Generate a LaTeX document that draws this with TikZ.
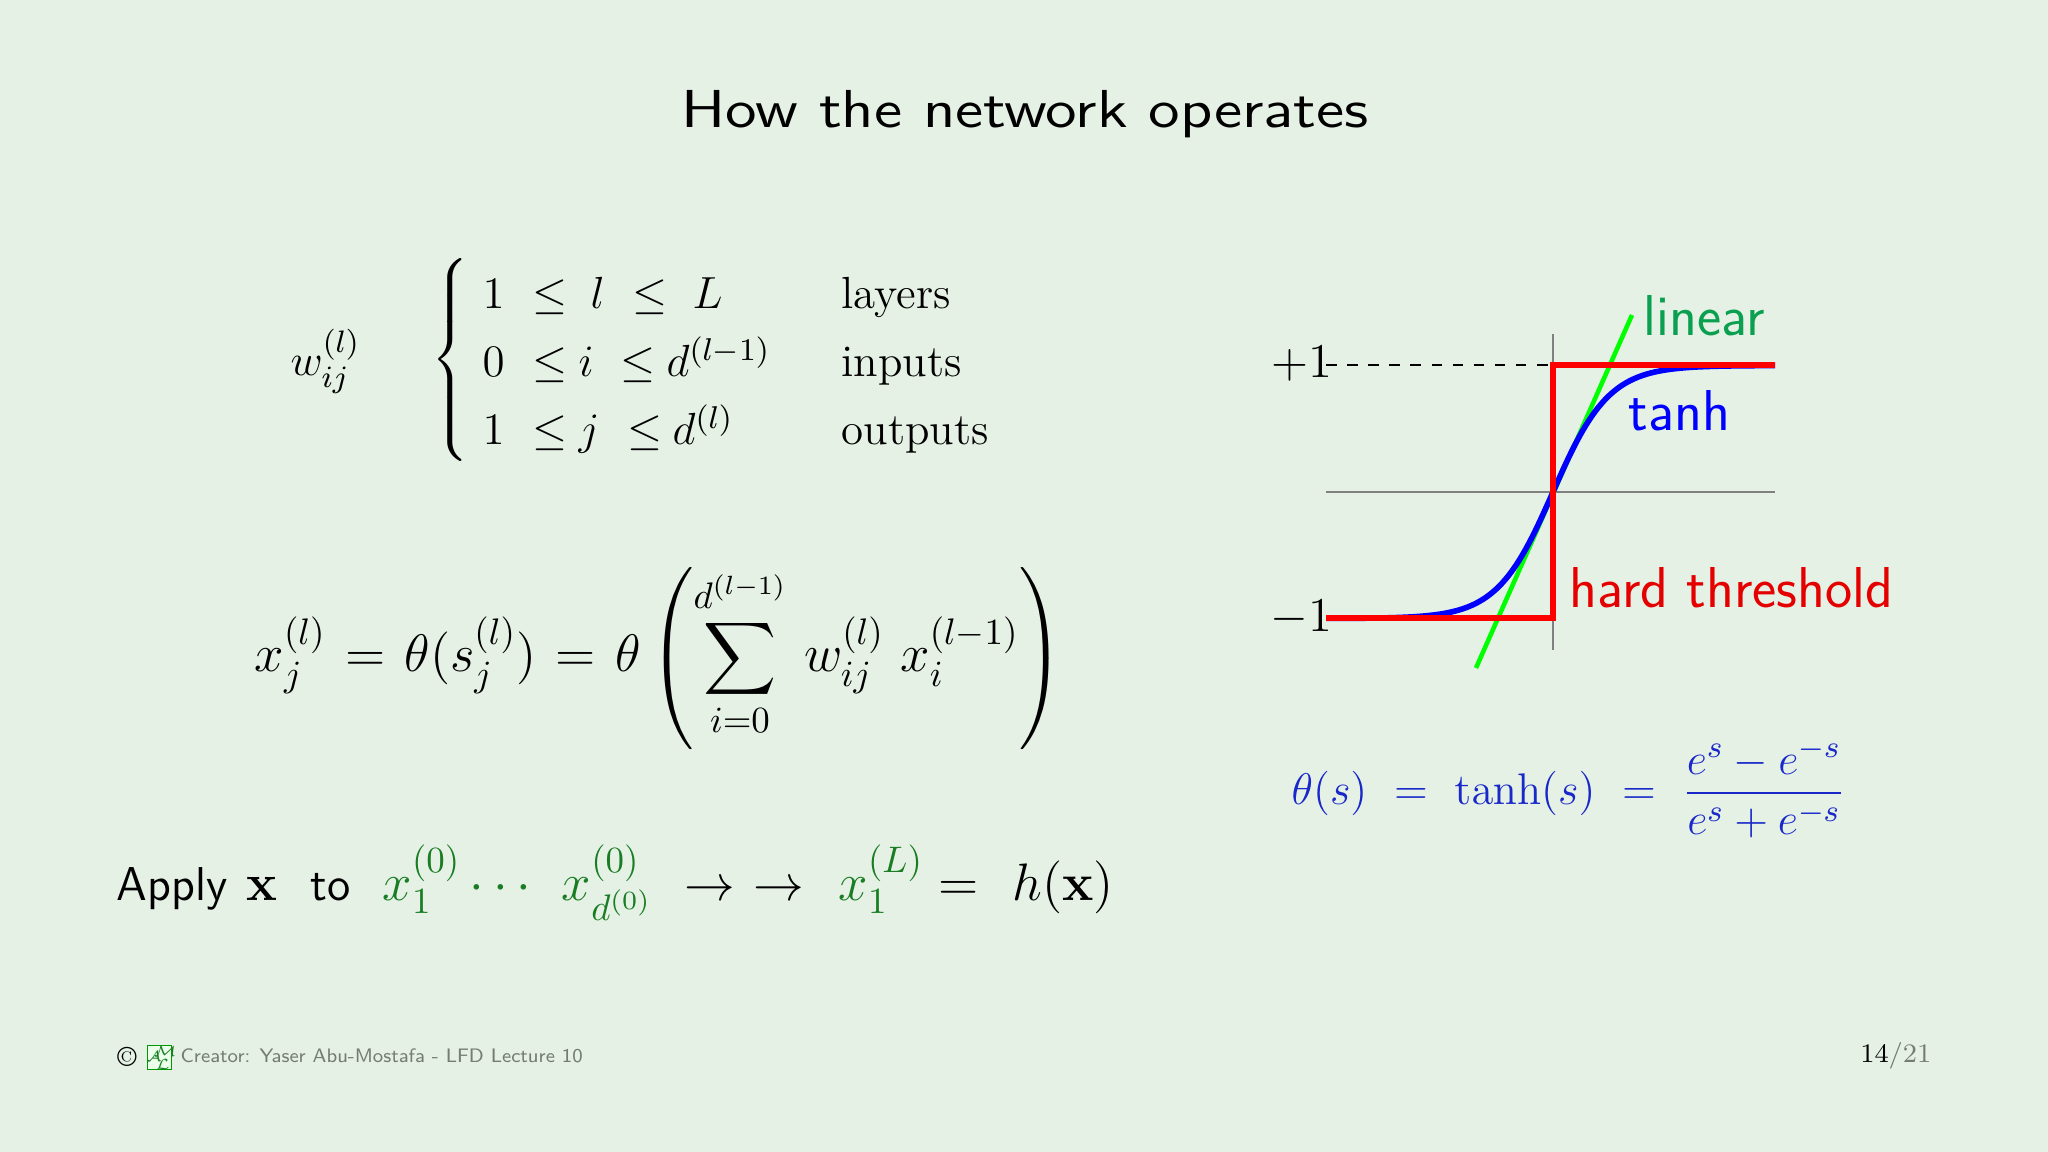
\documentclass[tikz,border=0pt]{standalone}
\usepackage{fix-cm}
\usepackage{amsmath}
\usetikzlibrary{positioning, calc}
\definecolor{slidebg}{RGB}{230,241,230}
\definecolor{lineargreen}{RGB}{10,160,80}
\definecolor{formulablue}{RGB}{25,40,200}
\definecolor{applygreen}{RGB}{25,125,35}
\definecolor{footgray}{RGB}{115,125,115}
\tikzstyle{title} = [font=\fontsize{15.2}{18}\selectfont\sffamily, inner sep=0pt, anchor=base]
\tikzstyle{formula} = [font=\fontsize{12.8}{19.4}\selectfont, inner sep=0pt, anchor=base west]
\tikzstyle{rowentry} = [formula, font=\fontsize{12.8}{19.4}\selectfont]
\tikzstyle{bigformula} = [formula, font=\fontsize{15}{19.4}\selectfont]
\tikzstyle{label} = [font=\fontsize{16.4}{18}\selectfont\sffamily, inner sep=0pt, anchor=base west]
\tikzstyle{applytext} = [font=\fontsize{13.5}{16}\selectfont\sffamily, inner sep=0pt, anchor=base west]
\tikzstyle{footer} = [font=\fontsize{5.55}{7}\selectfont\sffamily, text=footgray, inner sep=0pt, anchor=base west]
\tikzstyle{axis} = [gray, line width=0.3pt]
\tikzstyle{curve} = [line width=1.6pt]
\tikzstyle{logoletter} = [inner sep=0pt, text=applygreen, font=\fontsize{4.2}{5}\selectfont]
\begin{document}
\begin{tikzpicture}[x=0.01cm, y=-0.01cm]
  %background and title
  \fill[slidebg] (0,0) rectangle (2048,1152);
  \useasboundingbox (0,0) rectangle (2048,1152);
  \node (title) [title] at (1025,128) {\scalebox{1.205}[1]{How the network operates}};

  %weight indices
  \node (weight) [formula, font=\fontsize{12.6}{19}\selectfont] at (290,376) {$w_{ij}^{(l)}$};
  \node (brace) [formula, anchor=west, font=\fontsize{12.4}{19}\selectfont] at (431,362) {$\left\{\rule[-27pt]{0pt}{54pt}\right.$};
  \foreach \i/\x/\y/\t in {a1/482/309/1, a2/532/309/\leq, a3/590/309/l, a4/632/309/\leq, a5/692/309/L,
                           b1/482/377/0, b2/532/377/\leq, b3/578/377/i, b4/620/377/\leq, b5/666/377/d^{(l-1)},
                           c1/482/445/1, c2/532/445/\leq, c3/578/445/j, c4/627/445/\leq, c5/672/445/d^{(l)}}
    \node (row\i) [rowentry] at (\x,\y) {$\t$};
  \node (layers) [formula] at (841,309) {layers};
  \node (inputs) [formula] at (841,377) {inputs};
  \node (outputs) [formula] at (841,445) {outputs};

  %main formula
  \node (main) [bigformula] at (254,672) {$\thickmuskip=6.5mu\displaystyle x_j^{(l)} = \theta(s_j^{(l)}) = \theta \left( \sum_{i=0}^{d^{(l-1)}} \, w_{ij}^{(l)} \ x_i^{(l-1)} \right)$};

  %apply line
  \node (apply) [applytext] at (116,900) {Apply {\fontsize{14.8}{16}\selectfont\hspace{1pt}$\mathbf{x}$}};
  \node (to) [applytext] at (310,900) {to};
  \node (chain) [bigformula, text=applygreen] at (382,900) {$x_1^{(0)} \cdots\ \mkern2mu x_{d^{(0)}}^{(0)}$};
  \node (arrows) [bigformula, font=\fontsize{14.4}{16}\selectfont] at (684,900) {$\rightarrow\hspace{5.3pt}\rightarrow$};
  \node (last) [bigformula, text=applygreen] at (838,900) {$x_1^{(L)}$};
  \node (result) [bigformula] at (938,900) {$=\ \mkern1mu h(\mathbf{x})$};

  %activation curves
  \coordinate (left) at (1326,492);
  \coordinate (right) at (1775,492);
  \coordinate (top) at (1553,334);
  \coordinate (bottom) at (1553,650);
  \coordinate (dashstart) at (1326,365);
  \coordinate (upper) at (1553,365);
  \coordinate (lower) at (1553,618);
  \coordinate (lowstart) at (1326,618);
  \coordinate (upend) at (1775,365);
  \coordinate (greenlow) at (1476,668);
  \coordinate (greenhigh) at (1632,315);
  \draw [axis] (left) -- (right);
  \draw [axis] (top) -- (bottom);
  \draw [black, dashed, line width=0.3pt] (dashstart) -- (upper);
  \draw [green, line width=1.3pt] (greenlow) -- (greenhigh);
  \draw [blue, curve, domain=1326:1775, samples=80, smooth] plot (\x,{492-126.5*tanh((\x-1553)/56)});
  \draw [red, curve] (lowstart) -- (lower) -- (upper) -- (upend);
  \node (pone) [formula, font=\fontsize{13.8}{16}\selectfont, anchor=base east] at (1333,378) {$+1$};
  \node (mone) [formula, font=\fontsize{13.8}{16}\selectfont, anchor=base east] at (1333,631) {$-1$};
  \node (linear) [label, text=lineargreen] at (1643,336) {linear};
  \node (tanh) [label, text=blue] at (1628,431) {tanh};
  \node (hard) [label, text=red!90!black] at (1569,607) {hard threshold};

  %theta formula
  \node (theta) [formula, font=\fontsize{12.6}{16}\selectfont, text=formulablue] at (1291,804) {$\theta(s)\ =\ \tanh(s)\ =\ \dfrac{e^{s}-e^{-s}}{e^{s}+e^{-s}}$};

  %footer
  \node (copy) [footer, font=\fontsize{8}{8}\selectfont, text=black, anchor=base] at (127,1066) {\textcopyright};
  \node (logo) [draw=green!60!black, fill=green!8, line width=0.3pt, minimum width=7pt, minimum height=7pt, inner sep=0pt] at (159.5,1057.5) {};
  \node (logoa) [logoletter] at (154,1056) {$\mathcal{A}$};
  \node (logom) [logoletter] at (165,1051) {$\mathcal{M}$};
  \node (logol) [logoletter] at (163,1064) {$\mathcal{L}$};
  \node (creator) [footer] at (180,1062) {Creator: Yaser Abu-Mostafa - LFD Lecture 10};
  \node (page) [formula, font=\fontsize{7.6}{10}\selectfont, anchor=base east] at (1932,1062) {14\textcolor{footgray}{/21}};
\end{tikzpicture}
\end{document}
